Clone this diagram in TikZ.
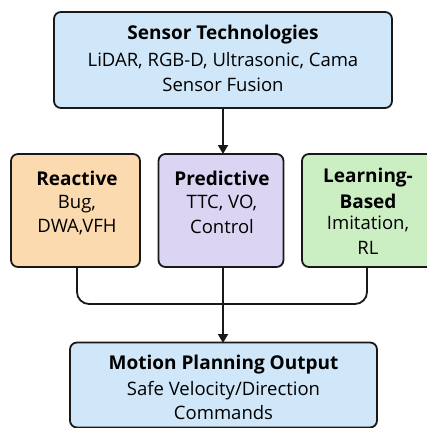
\documentclass[tikz,border=0pt]{standalone}
\usepackage{fontspec}
\setmainfont{Open Sans}
\usetikzlibrary{arrows.meta}
\definecolor{boxblue}{HTML}{CFE7F8}
\definecolor{boxorange}{HTML}{FCDAB0}
\definecolor{boxpurple}{HTML}{DCD4F3}
\definecolor{boxgreen}{HTML}{CBEEC3}
\tikzset{
  boxstyle/.style={draw=black!90, line width=1.8pt, rounded corners=7pt, inner sep=0pt},
  ttl/.style={font=\fontsize{19}{21}\selectfont\bfseries, inner sep=0pt},
  txt/.style={font=\fontsize{18.5}{20}\selectfont, inner sep=0pt},
  conn/.style={line width=1.8pt, draw=black!90},
  tip/.style={-{Triangle[length=9pt,width=10pt]}}
}
\begin{document}
\begin{tikzpicture}[x=1pt,y=-1pt]
\useasboundingbox (0,0) rectangle (427,428);
\begin{scope}
\clip (0,0) rectangle (427,428);
% boxes
\node[boxstyle, fill=boxblue, minimum width=338pt, minimum height=96pt] (sensor) at (223,60) {};
\node[boxstyle, fill=boxorange, minimum width=129pt, minimum height=113pt] (reactive) at (75.5,210.5) {};
\node[boxstyle, fill=boxpurple, minimum width=125pt, minimum height=113pt] (predictive) at (221,210.5) {};
\node[boxstyle, fill=boxgreen, minimum width=132pt, minimum height=113pt] (learning) at (368,210.5) {};
\node[boxstyle, fill=boxblue, minimum width=307pt, minimum height=85pt] (output) at (223.5,385) {};
\end{scope}
% texts
\node[ttl] (t1) at (223,35) {Sensor Technologies};
\node[txt] (t2) at (223,61) {LiDAR, RGB-D, Ultrasonic, Cama};
\node[txt] (t3) at (223,85) {Sensor Fusion};
\node[ttl] (r1) at (77,178) {Reactive};
\node[txt] (r2) at (77,204) {Bug,};
\node[txt] (r3) at (77,227) {DWA,VFH};
\node[ttl] (p1) at (222,178) {Predictive};
\node[txt] (p2) at (222,203) {TTC, VO,};
\node[txt] (p3) at (222,227) {Control};
\node[ttl] (l1) at (368,178) {Learning-};
\node[ttl] (l2) at (368,201) {Based};
\node[txt] (l3) at (368,224) {Imitation,};
\node[txt] (l4) at (368,248) {RL};
\node[ttl] (o1) at (223.5,365) {Motion Planning Output};
\node[txt] (o2) at (223.5,391) {Safe Velocity/Direction};
\node[txt] (o3) at (223.5,413) {Commands};
% connectors
\coordinate (jL) at (77,267);
\coordinate (jR) at (367,267);
\coordinate (jM) at (223,267);
\coordinate (sTop) at (223,108);
\coordinate (pTop) at (223,154);
\coordinate (oTop) at (223,343);
\draw[conn, tip] (sTop) -- (pTop);
\draw[conn, rounded corners=12pt] (jL) -- (77,304) -- (367,304) -- (jR);
\draw[conn, tip] (jM) -- (oTop);
\end{tikzpicture}
\end{document}
